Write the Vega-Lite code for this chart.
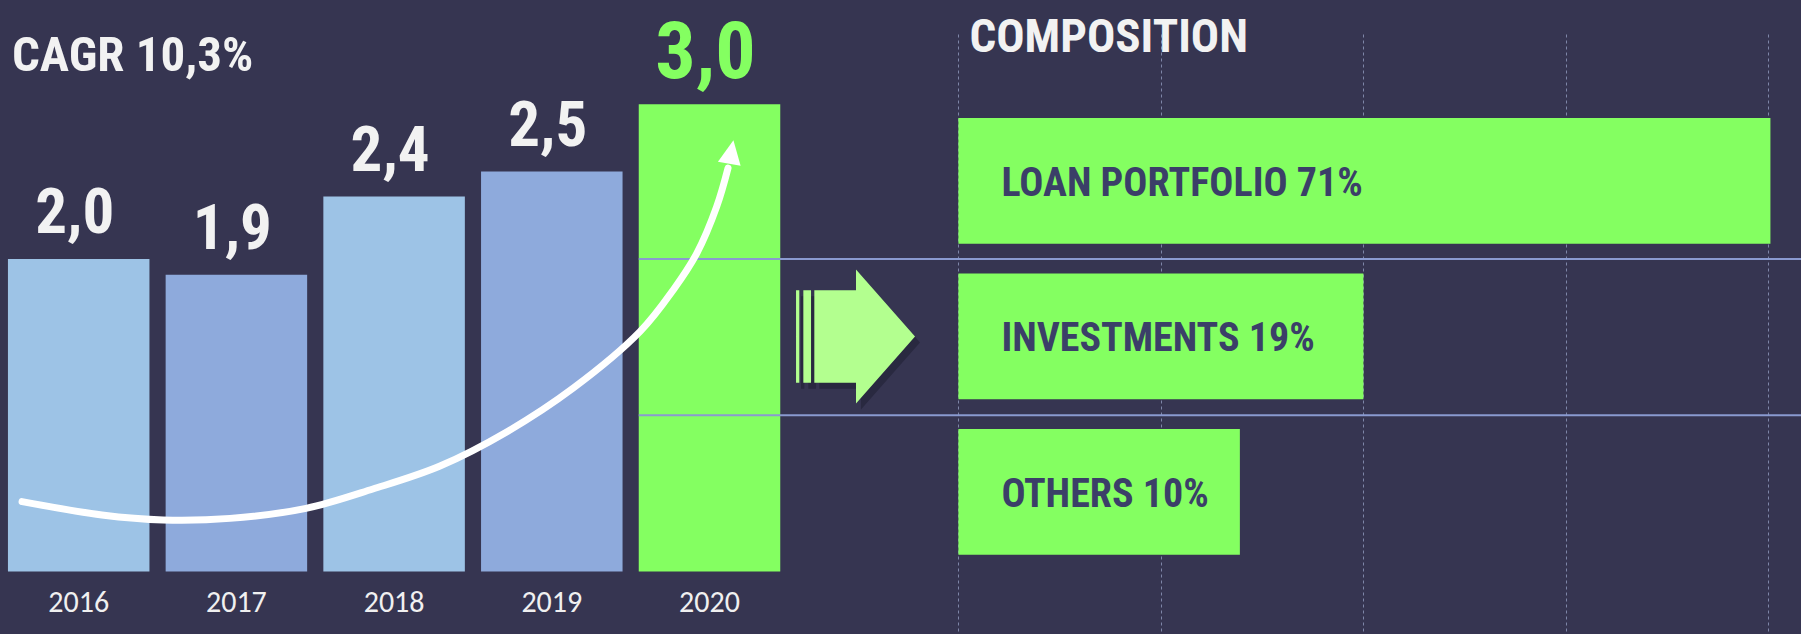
{
  "$schema": "https://vega.github.io/schema/vega-lite/v6.json",
  "width": 1801,
  "height": 634,
  "autosize": {"type": "none"},
  "padding": 0,
  "background": "#363551",
  "config": {"view": {"stroke": null}},
  "datasets": {
    "revenue": [
      {"year": "2016", "value": 2.0, "label": "2,0"},
      {"year": "2017", "value": 1.9, "label": "1,9"},
      {"year": "2018", "value": 2.4, "label": "2,4"},
      {"year": "2019", "value": 2.56, "label": "2,5"},
      {"year": "2020", "value": 2.99, "label": "3,0"}
    ],
    "gridRows": [{"gridValue": 1}, {"gridValue": 2}],
    "trend": [
      {"t": 2015.642, "v": 0.447},
      {"t": 2016.148, "v": 0.362},
      {"t": 2016.535, "v": 0.33},
      {"t": 2016.959, "v": 0.34},
      {"t": 2017.44, "v": 0.404},
      {"t": 2017.864, "v": 0.528},
      {"t": 2018.289, "v": 0.675},
      {"t": 2018.711, "v": 0.893},
      {"t": 2019.133, "v": 1.174},
      {"t": 2019.555, "v": 1.535},
      {"t": 2019.766, "v": 1.802},
      {"t": 2019.915, "v": 2.036},
      {"t": 2020.041, "v": 2.335},
      {"t": 2020.113, "v": 2.582}
    ],
    "trendTip": [{"t": 2020.134, "v": 2.685}],
    "composition": [
      {"segment": "LOAN PORTFOLIO", "share": 71, "barLength": 4.01, "label": "LOAN PORTFOLIO 71%"},
      {"segment": "INVESTMENTS", "share": 19, "barLength": 2.0, "label": "INVESTMENTS 19%"},
      {"segment": "OTHERS", "share": 10, "barLength": 1.39, "label": "OTHERS 10%"}
    ]
  },
  "layer": [
    {
      "layer": [
        {
          "data": {"name": "revenue"},
          "mark": {"type": "bar"},
          "encoding": {
            "x": {
              "field": "year", "type": "ordinal",
              "scale": {"type": "band", "range": [2, 786.2], "paddingInner": 0.1027, "paddingOuter": 0.0377},
              "axis": {
                "orient": "bottom", "offset": -62.5, "title": null, "domain": false, "ticks": false, "grid": false,
                "labelAngle": 0, "labelFont": "Carlito, Lato, sans-serif", "labelFontSize": 30,
                "labelColor": "#f0f0f0", "labelPadding": 16
              }
            },
            "y": {
              "field": "value", "type": "quantitative",
              "scale": {"domain": [0, 3.6576], "range": [571.5, 0], "nice": false, "zero": true},
              "axis": null
            },
            "color": {
              "field": "year", "type": "nominal",
              "scale": {"domain": ["2016", "2017", "2018", "2019", "2020"], "range": ["#9dc3e6", "#8eaadc", "#9dc3e6", "#8eaadc", "#84ff61"]},
              "legend": null
            }
          }
        },
        {
          "data": {"name": "revenue"},
          "mark": {"type": "text", "align": "center", "baseline": "alphabetic", "dx": -4, "dy": -26,
                   "font": "Roboto Condensed, Liberation Sans Narrow, DejaVu Sans Condensed, sans-serif", "fontWeight": "bold"},
          "encoding": {
            "x": {"field": "year", "type": "ordinal"},
            "y": {"field": "value", "type": "quantitative"},
            "text": {"field": "label"},
            "size": {"condition": {"test": "datum.year === '2020'", "value": 80}, "value": 63},
            "color": {"condition": {"test": "datum.year === '2020'", "value": "#84ff61"}, "value": "#f2f2f2"}
          }
        },
        {
          "data": {"name": "gridRows"},
          "mark": {"type": "rule", "color": "#8a9ad0", "strokeWidth": 2},
          "encoding": {
            "x": {"datum": "2020", "type": "ordinal", "bandPosition": 0},
            "x2": {"value": "width"},
            "y": {"field": "gridValue", "type": "quantitative"}
          }
        },
        {
          "data": {"values": [{"title": "CAGR 10,3%"}]},
          "mark": {"type": "text", "align": "left", "baseline": "alphabetic", "dx": 4, "fontSize": 49,
                   "font": "Roboto Condensed, Liberation Sans Narrow, DejaVu Sans Condensed, sans-serif", "fontWeight": "bold", "color": "#f2f2f2"},
          "encoding": {
            "x": {"datum": "2016", "type": "ordinal", "bandPosition": 0},
            "y": {"datum": 3.203, "type": "quantitative"},
            "text": {"field": "title"}
          }
        }
      ]
    },
    {
      "data": {"name": "composition"},
      "layer": [
        {
          "mark": {"type": "bar", "color": "#84ff61"},
          "encoding": {
            "x": {
              "field": "barLength", "type": "quantitative",
              "scale": {"domain": [0, 4], "range": [958.4, 1768.4], "nice": false, "zero": true},
              "axis": {"orient": "top", "values": [0, 1, 2, 3, 4], "grid": true, "labels": false, "ticks": false,
                       "domain": false, "title": null, "gridColor": "#7e86a8", "gridDash": [3, 3], "gridWidth": 1}
            },
            "y": {
              "field": "segment", "type": "nominal", "sort": null,
              "scale": {"type": "band", "range": [34, 634], "paddingInner": 0.191, "paddingOuter": 0.525, "align": 0.5147},
              "axis": null
            }
          }
        },
        {
          "mark": {"type": "text", "align": "left", "baseline": "alphabetic", "dx": 43, "dy": 15, "fontSize": 40,
                   "font": "Roboto Condensed, Liberation Sans Narrow, DejaVu Sans Condensed, sans-serif", "fontWeight": "bold", "color": "#3b3f68"},
          "encoding": {
            "x": {"datum": 0, "type": "quantitative"},
            "y": {"field": "segment", "type": "nominal", "sort": null},
            "text": {"field": "label"}
          }
        },
        {
          "data": {"values": [{"title": "COMPOSITION"}]},
          "mark": {"type": "text", "align": "left", "baseline": "alphabetic", "dx": 11, "dy": -129, "fontSize": 47,
                   "font": "Roboto Condensed, Liberation Sans Narrow, DejaVu Sans Condensed, sans-serif", "fontWeight": "bold", "color": "#f2f2f2"},
          "encoding": {
            "x": {"datum": 0, "type": "quantitative"},
            "y": {"datum": "LOAN PORTFOLIO", "type": "nominal"},
            "text": {"field": "title"}
          }
        },
        {
          "data": {"values": [{"marker": "arrow"}]},
          "mark": {"type": "point", "filled": true, "opacity": 0.55, "color": "#1f1f33", "size": 17956, "xOffset": 5, "yOffset": 6,
                   "shape": "M-0.888,-0.69H-0.839V0.69H-0.888Z M-0.779,-0.69H-0.664V0.69H-0.779Z M-0.615,-0.69H0.007V-1L0.888,0L0.007,1V0.69H-0.615Z"},
          "encoding": {
            "x": {"datum": -0.508, "type": "quantitative"},
            "y": {"datum": "INVESTMENTS", "type": "nominal"}
          }
        },
        {
          "data": {"values": [{"marker": "arrow"}]},
          "mark": {"type": "point", "filled": true, "opacity": 1, "color": "#b3ff8f", "size": 17956,
                   "shape": "M-0.888,-0.69H-0.839V0.69H-0.888Z M-0.779,-0.69H-0.664V0.69H-0.779Z M-0.615,-0.69H0.007V-1L0.888,0L0.007,1V0.69H-0.615Z"},
          "encoding": {
            "x": {"datum": -0.508, "type": "quantitative"},
            "y": {"datum": "INVESTMENTS", "type": "nominal"}
          }
        }
      ]
    },
    {
      "layer": [
        {
          "data": {"name": "trend"},
          "mark": {"type": "line", "color": "#ffffff", "strokeWidth": 7, "strokeCap": "round", "interpolate": "catmull-rom"},
          "encoding": {
            "x": {"field": "t", "type": "quantitative", "scale": {"domain": [2016, 2020], "range": [78.6, 710.2], "nice": false, "zero": false}, "axis": null},
            "y": {"field": "v", "type": "quantitative", "scale": {"domain": [0, 3.6576], "range": [571.5, 0], "nice": false, "zero": false}, "axis": null}
          }
        },
        {
          "data": {"name": "trendTip"},
          "mark": {"type": "point", "filled": true, "opacity": 1, "color": "#ffffff", "size": 576, "angle": 10,
                   "shape": "M0,-1L0.96,1L-0.96,1Z"},
          "encoding": {
            "x": {"field": "t", "type": "quantitative"},
            "y": {"field": "v", "type": "quantitative"}
          }
        }
      ]
    }
  ],
  "resolve": {"scale": {"x": "independent", "y": "independent"}, "axis": {"x": "independent", "y": "independent"}}
}
